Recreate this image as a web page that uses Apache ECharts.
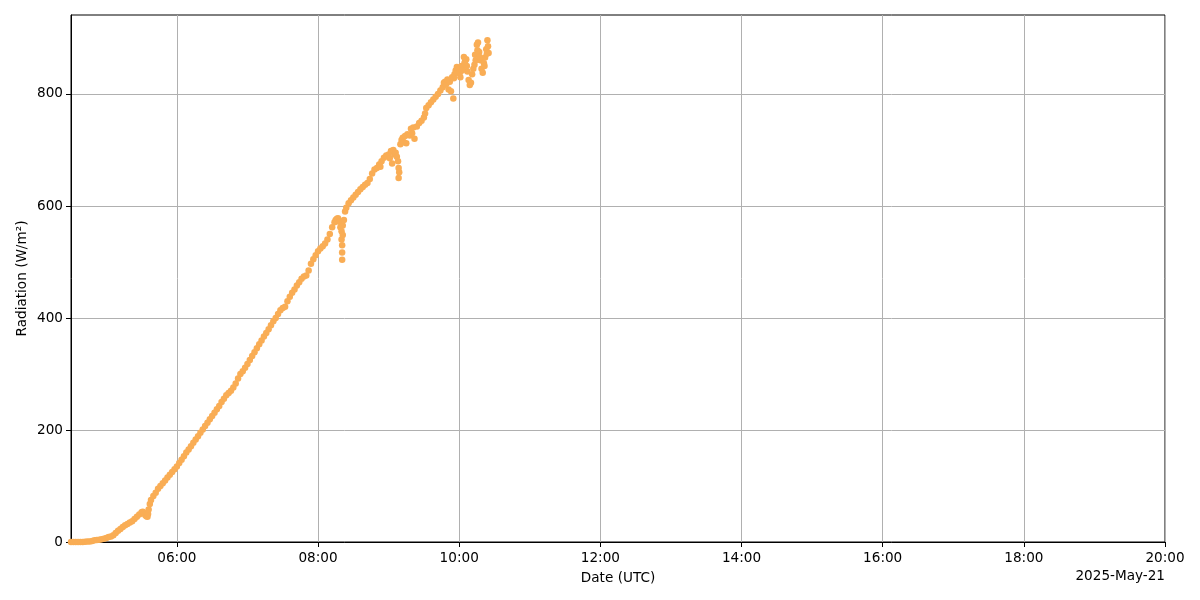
<!DOCTYPE html>
<html>
<head>
<meta charset="utf-8">
<script src="https://cdn.jsdelivr.net/npm/echarts@6/dist/echarts.min.js"></script>
<style>html,body{margin:0;padding:0;background:#fff}#c{width:1200px;height:600px}</style>
</head>
<body>
<div id="c"></div>
<script>
// Observation times (UTC, H:MM with fractional minutes allowed)
const times = [
"4:30","4:32","4:34","4:36","4:38","4:40","4:42","4:44","4:46","4:48",
"4:50","4:52","4:54","4:56","4:58","5:00","5:02","5:04","5:06","5:08",
"5:10","5:12","5:14","5:16","5:18","5:20","5:22","5:24","5:26","5:28",
"5:30","5:31","5:32","5:33","5:34","5:35","5:35.5","5:36","5:37","5:38",
"5:40","5:42","5:44","5:46","5:48","5:50","5:52","5:54","5:56","5:58",
"6:00","6:02","6:04","6:06","6:08","6:10","6:12","6:14","6:16","6:18",
"6:20","6:22","6:24","6:26","6:28","6:30","6:32","6:34","6:36","6:38",
"6:40","6:42","6:44","6:46","6:48","6:50","6:52","6:54","6:56","6:58",
"7:00","7:02","7:04","7:06","7:08","7:10","7:12","7:14","7:16","7:18",
"7:20","7:22","7:24","7:26","7:28","7:30","7:32","7:34","7:36","7:38",
"7:40","7:42","7:44","7:46","7:48","7:50","7:52","7:54","7:56","7:58",
"8:00","8:02","8:04","8:06","8:08","8:10","8:12","8:14","8:15","8:16",
"8:17","8:18","8:19","8:20","8:20","8:20.5","8:20.5","8:20.5","8:21","8:21",
"8:22","8:23","8:24","8:26","8:28","8:30","8:32","8:34","8:36","8:38",
"8:40","8:42","8:44","8:46","8:48","8:50","8:52","8:53","8:54","8:56",
"8:58","9:00","9:01","9:02","9:03","9:04","9:05","9:06","9:07","9:08",
"9:08.5","9:08.5","9:09","9:10","9:11","9:12","9:13","9:14","9:15","9:16",
"9:18","9:19","9:20","9:21","9:22","9:24","9:26","9:28","9:30","9:31",
"9:32","9:34","9:36","9:38","9:40","9:42","9:44","9:46","9:47","9:48",
"9:49","9:50","9:51","9:52","9:53","9:54","9:55","9:55.5","9:56","9:57",
"9:58","9:59","10:00","10:01","10:02","10:03","10:04","10:05","10:06","10:07",
"10:08","10:09","10:10","10:11","10:12","10:13","10:14","10:15","10:16","10:17",
"10:18","10:19","10:20","10:21","10:22","10:23","10:24","10:24.5","10:25",
"10:00.5","10:02.5","10:04.5","10:06.5","10:13.5","10:15.5","10:17.5","10:21.5","10:23.5"
];
// Radiation (W/m²)
const radiation = [
0,0,0,0,0,0,0.5,1,1,2,
3,3.5,4,5,6,7,9,10,12,16,
20,23,27,30,32,35,37,41,45,49,
53,54,52,48,46,45,50,58,68,75,
82,88,95,100,105,110,115,120,125,130,
135,141,147,153,160,165,171,177,183,189,
195,201,207,213,219,225,231,237,243,250,
256,262,266,270,276,283,292,300,305,311,
318,325,332,339,346,353,360,367,373,380,
387,394,400,407,414,418,420,430,438,445,
451,458,464,470,474,476,485,497,505,512,
519,524,528,533,540,550,562,571,575,577,
578,572,562,555,540,530,517,504,548,565,
575,590,597,605,610,615,620,625,630,634,
638,641,648,658,665,668,674,670,680,686,
690,692,685,698,676,700,692,695,688,680,
668,650,660,710,718,722,714,725,712,728,
726,738,730,740,720,742,748,752,758,765,
775,780,785,790,795,800,806,812,820,822,
818,826,808,822,805,830,792,828,835,842,
848,838,845,830,850,848,866,858,862,840,
825,816,820,835,845,852,860,888,892,875,
860,845,838,855,865,880,896,885,873,
838,842,855,850,870,878,866,850,872
];
// Axis tick labels
const xTickHours = [6, 8, 10, 12, 14, 16, 18, 20];
const yTicks = [0, 200, 400, 600, 800];
const dateLabel = "2025-May-21";

function toHours(s) {
  const p = s.split(":");
  return parseInt(p[0], 10) + parseFloat(p[1]) / 60;
}
const points = times.map((t, i) => [toHours(t), radiation[i]]);

const font = "DejaVu Sans";
const chart = echarts.init(document.getElementById('c'), null, {renderer: 'canvas'});
chart.setOption({
  animation: false,
  backgroundColor: '#fff',
  textStyle: {fontFamily: font},
  grid: {left: 71, right: 35, top: 15, bottom: 58, show: true, borderColor: '#000', borderWidth: 1, containLabel: false},
  xAxis: {
    type: 'value', min: 4.5, max: 20,
    name: 'Date (UTC)', nameLocation: 'middle', nameGap: 29, nameMoveOverlap: false,
    nameTextStyle: {color: '#000', fontSize: 13.6, fontFamily: font},
    axisLine: {show: true, lineStyle: {color: '#000', width: 1}},
    axisTick: {show: true, inside: false, length: 5, lineStyle: {color: '#000'}, customValues: xTickHours},
    axisLabel: {color: '#000', fontSize: 13.6, fontFamily: font, margin: 9, customValues: xTickHours,
      formatter: v => String(Math.round(v)).padStart(2, '0') + ':00'},
    splitLine: {show: true, lineStyle: {color: '#b0b0b0', width: 1}, customValues: xTickHours}
  },
  yAxis: {
    type: 'value', min: 0, max: 941,
    name: 'Radiation (W/m²)', nameLocation: 'middle', nameGap: 42, nameRotate: 90, nameMoveOverlap: false,
    nameTextStyle: {color: '#000', fontSize: 13.6, fontFamily: font},
    axisLine: {show: true, lineStyle: {color: '#000', width: 1}},
    axisTick: {show: true, inside: false, length: 5, lineStyle: {color: '#000'}, customValues: yTicks},
    axisLabel: {color: '#000', fontSize: 13.6, fontFamily: font, margin: 8, customValues: yTicks},
    splitLine: {show: true, lineStyle: {color: '#b0b0b0', width: 1}, customValues: yTicks}
  },
  graphic: [{
    type: 'text', right: 35, top: 569,
    style: {text: dateLabel, fill: '#000', font: '13.6px "DejaVu Sans"', textAlign: 'right'}
  }],
  series: [{
    type: 'scatter',
    data: points,
    symbol: 'circle',
    symbolSize: 6.5,
    itemStyle: {color: '#f9ad55', opacity: 1},
    clip: true
  }]
});
</script>
</body>
</html>
